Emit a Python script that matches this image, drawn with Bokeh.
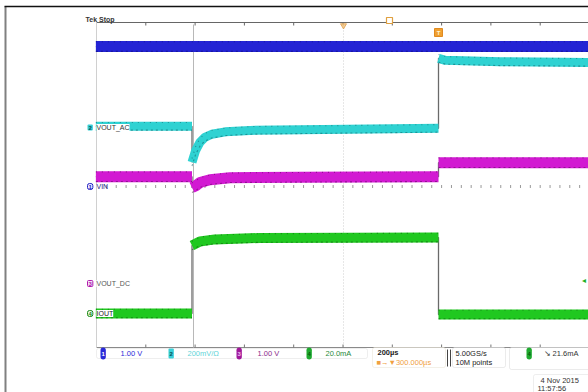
import math
from bokeh.plotting import figure
from bokeh.models import Range1d, Label, BoxAnnotation
from bokeh.embed import file_html
from bokeh.resources import INLINE

# ---------------- data ----------------
TIME_PER_DIV_US = 200          # 200 us / div, t = 0 at trigger (falling IOUT edge)

# Channel 1 : VIN, 1.00 V/div
VIN_SCALE = 1.00
VIN_OFFSET_DIV = -0.04
VIN_T = [-1390, 612]
VIN_V = [3.45, 3.45]

# Channel 2 : VOUT_AC, 200 mV/div (values in mV)
VOUT_AC_SCALE = 200.0
VOUT_AC_OFFSET_DIV = 1.42
VOUT_AC_T_PRE = [-1390, -1000]
VOUT_AC_MV_PRE = [5, 5]
VOUT_AC_T_LOAD = [-1000, -985, -968, -948, -920, -865, -765, -560, 0]
VOUT_AC_MV_LOAD = [-172, -113, -74, -49, -34, -22, -15, -12, -5]
VOUT_AC_T_POST = [0, 28, 250, 612]
VOUT_AC_MV_POST = [340, 330, 323, 320]

# Channel 3 : VOUT_DC, 1.00 V/div
VOUT_DC_SCALE = 1.00
VOUT_DC_OFFSET_DIV = -2.43
VOUT_DC_T_PRE = [-1390, -1000]
VOUT_DC_V_PRE = [2.635, 2.635]
VOUT_DC_T_LOAD = [-1000, -985, -968, -927, -846, -560, 0]
VOUT_DC_V_LOAD = [2.365, 2.41, 2.49, 2.56, 2.61, 2.62, 2.635]
VOUT_DC_T_POST = [0, 612]
VOUT_DC_V_POST = [2.98, 2.98]

# Channel 4 : IOUT, 20.0 mA/div (values in mA)
IOUT_SCALE = 20.0
IOUT_OFFSET_DIV = -3.165
IOUT_T_PRE = [-1390, -1000]
IOUT_MA_PRE = [0.0, 0.0]
IOUT_T_LOAD = [-1000, -968, -907, -724, 0]
IOUT_MA_LOAD = [33.5, 35.5, 36.5, 37.2, 37.4]
IOUT_T_POST = [0, 612]
IOUT_MA_POST = [-0.5, -0.5]

CH_LABELS = ["VIN", "VOUT_AC", "VOUT_DC", "IOUT"]
SCALE_TEXTS = ["1.00 V", "200mV/\u03a9", "1.00 V", "20.0mA"]

# ---------------- layout helpers (screen px -> scope units) ----------------
PX_PER_DIV_X = 49.3
PX_PER_DIV_Y = 40.6
X_TRIG_PX = 438.0
Y_CENTER_PX = 184.5


def X(px):
    return (px - X_TRIG_PX) * TIME_PER_DIV_US / PX_PER_DIV_X


def Y(py):
    return (Y_CENTER_PX - py) / PX_PER_DIV_Y


FONT = "Liberation Sans"

p = figure(width=588, height=392, output_backend="svg", toolbar_location=None,
           x_range=Range1d(X(0), X(588)), y_range=Range1d(Y(392), Y(0)),
           x_axis_location=None, y_axis_location=None, min_border=0)
p.grid.visible = False
p.outline_line_color = None
p.background_fill_color = "white"
p.border_fill_color = "white"

# page frame
p.segment(x0=[X(5)], y0=[Y(6)], x1=[X(5)], y1=[Y(392)], line_color="#808080", line_width=2)
p.segment(x0=[X(4)], y0=[Y(6)], x1=[X(588)], y1=[Y(6)], line_color="#111111", line_width=1.5)

# graticule
p.segment(x0=[X(96)], y0=[Y(22)], x1=[X(588)], y1=[Y(22)], line_color="#666666", line_width=1)
p.segment(x0=[X(96)], y0=[Y(347)], x1=[X(588)], y1=[Y(347)], line_color="#8a8a8a", line_width=1)
p.segment(x0=[X(96)], y0=[Y(22)], x1=[X(96)], y1=[Y(347)], line_color="#d0d0d0", line_width=1)
p.segment(x0=[X(193)], y0=[Y(24)], x1=[X(193)], y1=[Y(347)], line_color="#b8b8b8", line_width=1)
p.segment(x0=[X(343)], y0=[Y(24)], x1=[X(343)], y1=[Y(347)], line_color="#cfcfcf",
          line_width=1, line_dash="1 2")

# division ticks on top / bottom edges, minor ticks on the centre line
div_t = [X(96) + k * TIME_PER_DIV_US for k in range(1, 10)]
p.segment(x0=div_t, y0=[Y(22)] * 9, x1=div_t, y1=[Y(25)] * 9, line_color="#666666")
p.segment(x0=div_t, y0=[Y(347)] * 9, x1=div_t, y1=[Y(344)] * 9, line_color="#777777")
minor_t = [X(96) + k * TIME_PER_DIV_US / 5 for k in range(1, 50)]
p.segment(x0=minor_t, y0=[Y(184.5)] * 49, x1=minor_t, y1=[Y(187.5)] * 49,
          line_color="#555555", line_width=1, line_alpha=0.6)

# ---------------- traces ----------------
NAN = float("nan")


def build(segs_t, segs_v, scale, offset):
    xt, yt, xb, yb = [], [], [], []
    for t, v in zip(segs_t, segs_v):
        d = [offset + vi / scale for vi in v]
        xt += list(t)
        yt += d
        xb += list(t) + [NAN]
        yb += d + [NAN]
    return xt, yt, xb, yb


traces = [
    (build([VIN_T], [VIN_V], VIN_SCALE, VIN_OFFSET_DIV), "#2424d4", "#0c0c78", 11),
    (build([VOUT_AC_T_PRE, VOUT_AC_T_LOAD, VOUT_AC_T_POST],
           [VOUT_AC_MV_PRE, VOUT_AC_MV_LOAD, VOUT_AC_MV_POST],
           VOUT_AC_SCALE, VOUT_AC_OFFSET_DIV), "#2fd2d2", "#0f5f66", 9),
    (build([VOUT_DC_T_PRE, VOUT_DC_T_LOAD, VOUT_DC_T_POST],
           [VOUT_DC_V_PRE, VOUT_DC_V_LOAD, VOUT_DC_V_POST],
           VOUT_DC_SCALE, VOUT_DC_OFFSET_DIV), "#d21ad2", "#5e0a5e", 11),
    (build([IOUT_T_PRE, IOUT_T_LOAD, IOUT_T_POST],
           [IOUT_MA_PRE, IOUT_MA_LOAD, IOUT_MA_POST],
           IOUT_SCALE, IOUT_OFFSET_DIV), "#20c820", "#0b5a0b", 10),
]

for (xt, yt, xb, yb), col, dark, w in traces:
    p.line(xt, yt, line_color="#6a6a6a", line_width=1.3)
for (xt, yt, xb, yb), col, dark, w in traces:
    p.line(xb, yb, line_color=col, line_width=w, line_cap="butt", line_join="round")
    h = (w / 2 - 0.7) / PX_PER_DIV_Y
    for s, dash in ((1, "1 5"), (-1, "2 3")):
        p.line(xb, [y + s * h if y == y else y for y in yb], line_color=dark,
               line_width=1.1, line_dash=dash, line_alpha=0.55)

# ---------------- annotations ----------------


def lab(px, py, text, size=7, color="#222222", bold=False, align="left", bg=None,
        border=None, pad=0, radius=0):
    l = Label(x=X(px), y=Y(py), text=text, text_font=FONT, text_font_size=f"{size}px",
              text_color=color, text_align=align, text_baseline="middle",
              text_font_style="bold" if bold else "normal")
    if bg is not None:
        l.background_fill_color = bg
    if border is not None:
        l.border_line_color = border
    if pad:
        l.padding = pad
    if radius:
        l.border_radius = radius
    p.add_layout(l)


lab(85, 19, "Tek Stop", size=7, color="#333333", bold=True)

# orange markers
p.scatter([X(343)], [Y(25)], marker="inverted_triangle", size=6, fill_color="#f2c27a",
          line_color="#e0a050", alpha=0.8)
p.scatter([X(389)], [Y(20)], marker="square", size=6, fill_color="white",
          line_color="#e0a040", line_width=1.2)
p.scatter([X(438)], [Y(32)], marker="square", size=8, fill_color="#f0a030",
          line_color="#e08a20")
lab(438, 32, "T", size=6, color="#fff4d0", bold=True, align="center")

# channel ground markers + names
lab(87, 127, "2", size=6, color="#0b4f55", bg="#38d0d8", pad=1, radius=1, bold=True)
lab(96, 127, CH_LABELS[1], size=7, color="#333333", bg="white")
lab(87, 186, "1", size=6, color="#2424c4", bg="#eaeaff", border="#2424c4", pad=1, radius=2, bold=True)
lab(96, 186, CH_LABELS[0], size=7, color="#1c1c80")
lab(87, 283, "3", size=6, color="#b01ab0", bg="#f4e4f4", border="#b01ab0", pad=1, radius=1, bold=True)
lab(96, 283, CH_LABELS[2], size=7, color="#555555", bg="white")
lab(87, 313, "4", size=6, color="#1a8a1a", bg="#e4f6e4", border="#1a8a1a", pad=1, radius=2, bold=True)
lab(96, 313, CH_LABELS[3], size=7, color="#222222", bg="white")
lab(581, 280, "\u25c2", size=8, color="#1fb01f")

# status bar boxes
for l_, r_, t_, b_, c_ in [(96, 367, 348, 358, "#c8c8c8"), (372, 445, 347, 367, "#d8ccb4"),
                           (452, 505, 347, 367, "#bdbdbd"), (509, 592, 347, 369, "#bdbdbd"),
                           (533, 592, 374, 396, "#c8c8c8")]:
    p.add_layout(BoxAnnotation(left=X(l_), right=X(r_), top=Y(t_), bottom=Y(b_),
                               fill_color="white", fill_alpha=1.0, line_color=c_,
                               line_width=1, border_radius=2))

lab(100, 353, "1", size=6, color="white", bg="#2a2ad8", pad=(1, 4), radius=4, bold=True)
lab(120, 353, SCALE_TEXTS[0], size=7.5, color="#2a2ad8")
lab(168, 353, "2", size=6, color="#0b4f55", bg="#38d0d8", pad=(1, 3), radius=1, bold=True)
lab(187, 353, SCALE_TEXTS[1], size=7.5, color="#62d4d8")
lab(236, 353, "3", size=6, color="#f0c0f0", bg="#a0189a", pad=(1, 4), radius=4, bold=True)
lab(257, 353, SCALE_TEXTS[2], size=7.5, color="#8a2a8a")
lab(306, 353, "4", size=6, color="#0b5a0b", bg="#1faa2f", pad=(1, 4), radius=4, bold=True)
lab(325, 353, SCALE_TEXTS[3], size=7.5, color="#2a8a3a")

lab(377, 352, "200\u00b5s", size=7.5, color="#222222", bold=True)
lab(376, 362, "\u25a0\u2192\u25bc300.000\u00b5s", size=7.5, color="#f0a040")
p.segment(x0=[X(447), X(450)], y0=[Y(349), Y(349)], x1=[X(447), X(450)], y1=[Y(366), Y(366)],
          line_color="#444444", line_width=1)
lab(455, 353, "5.00GS/s", size=7.5, color="#222222")
lab(455, 362, "10M points", size=7.5, color="#222222")
lab(526, 353, "4", size=6, color="#0b5a0b", bg="#1faa2f", pad=(1, 4), radius=4, bold=True)
lab(543, 353, "\u2198 21.6mA", size=7.5, color="#333333")
lab(540, 379.5, "4 Nov 2015", size=7.5, color="#333333")
lab(537, 387.5, "11:57:56", size=7.5, color="#333333")

open("out.html", "w").write(file_html(p, INLINE))
